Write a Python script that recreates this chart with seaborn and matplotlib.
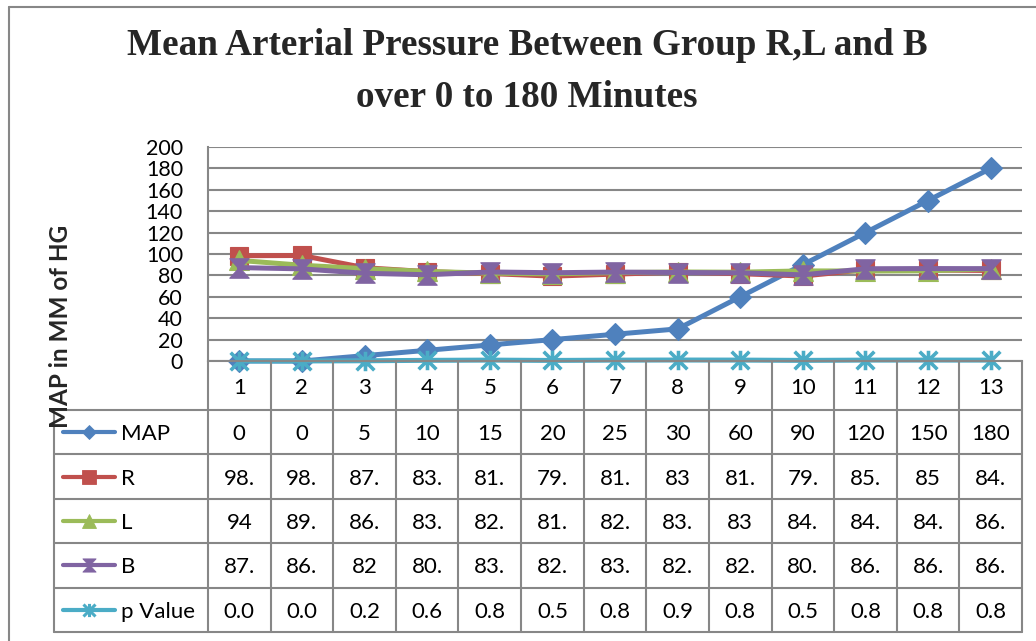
import matplotlib
matplotlib.use("Agg")
import matplotlib.pyplot as plt
from matplotlib.path import Path
from matplotlib.lines import Line2D
import seaborn as sns

# ---- data -------------------------------------------------------------
categories = list(range(1, 14))
map_values = [0, 0, 5, 10, 15, 20, 25, 30, 60, 90, 120, 150, 180]
group_r = [98.4, 98.6, 87.2, 83.5, 81.7, 79.3, 81.2, 83, 81.6, 79.4, 85.3, 85, 84.6]
group_l = [94, 89.5, 86.3, 83.7, 82.1, 81.4, 82.6, 83.2, 83, 84.2, 84.1, 84.3, 86.1]
group_b = [87.3, 86.1, 82, 80.6, 83.2, 82.5, 83.1, 82.7, 82.4, 80.5, 86.2, 86.4, 86.3]
p_values = [0.04, 0.03, 0.21, 0.62, 0.84, 0.53, 0.81, 0.92, 0.85, 0.57, 0.83, 0.86, 0.82]
series_names = ["MAP", "R", "L", "B", "p Value"]
y_ticks = list(range(0, 201, 20))

title_lines = ["Mean Arterial Pressure Between Group R,L and B",
               "over 0 to 180 Minutes"]
y_label = "MAP in MM of HG"

# ---- style ------------------------------------------------------------
sns.set_theme(style="white")
plt.rcParams["font.family"] = ["Lato", "DejaVu Sans"]

W, H = 1036, 641
GRID = "#878787"
colors = ["#4F81BD", "#C0504D", "#9BBB59", "#8064A2", "#4BACC6"]

hourglass = Path([(-1, 1), (1, 1), (0.08, 0), (1, -1), (-1, -1), (-0.08, 0), (-1, 1)],
                 [Path.MOVETO] + [Path.LINETO] * 5 + [Path.CLOSEPOLY])
star = Path([(-1, -1), (1, 1), (-1, 1), (1, -1), (0, -1.1), (0, 1.1)],
            [Path.MOVETO, Path.LINETO] * 3)
markers = ["D", "s", "^", hourglass, star]
plot_ms = [11, 13.5, 14, 14, 14]
key_ms = [7.5, 9.5, 10, 9.5, 9.5]

# layout (pixels)
PLOT_L, PLOT_R, PLOT_T, PLOT_B = 208, 1022, 147, 361
TABLE_L, TABLE_B = 54, 632
HEADER_H = 49
TABLE_FS = 16

fig = plt.figure(figsize=(W / 100, H / 100), dpi=100)
fig.patch.set_facecolor("white")

# ---- chart ------------------------------------------------------------
ax = fig.add_axes([PLOT_L / W, 1 - PLOT_B / H,
                   (PLOT_R - PLOT_L) / W, (PLOT_B - PLOT_T) / H])
series = [map_values, group_r, group_l, group_b, p_values]
for vals, col, mk, ms in zip(series, colors, markers, plot_ms):
    is_line_marker = mk is star
    sns.lineplot(x=categories, y=vals, ax=ax, color=col, linewidth=3.6,
                 marker=mk, markersize=ms, markeredgecolor=col,
                 markerfacecolor="none" if is_line_marker else col,
                 markeredgewidth=2.6 if is_line_marker else 0.8,
                 sort=False, errorbar=None, legend=False, clip_on=False)

ax.set_xlim(0.5, 13.5)
ax.set_ylim(0, 200)
ax.set_yticks(y_ticks)
ax.set_xticks([])
ax.set_xlabel("")
ax.set_ylabel("")
ax.yaxis.grid(True, color=GRID, linewidth=1.5)
ax.set_axisbelow(True)
for side in ("top", "right"):
    ax.spines[side].set_visible(False)
for side in ("left", "bottom"):
    ax.spines[side].set_color(GRID)
    ax.spines[side].set_linewidth(1.5)
ax.tick_params(axis="y", length=0, pad=18, labelsize=15.5, labelcolor="black")

# ---- data table -------------------------------------------------------
unit = (PLOT_R - PLOT_L) / 13
x_left = 0.5 - (PLOT_L - TABLE_L) / unit
tab_h = TABLE_B - PLOT_B
row_h = (tab_h - HEADER_H) / 5

tab = fig.add_axes([TABLE_L / W, 1 - TABLE_B / H,
                    (PLOT_R - TABLE_L) / W, tab_h / H])
tab.axis("off")

def px_to_x(px):
    return x_left + (px - TABLE_L) / unit

def cell_text(v, width=3):
    # values are clipped to the narrow cell width
    return f"{v:g}"[:width]

line_kw = dict(color=GRID, linewidth=1.5, clip_on=False)
for k in range(14):
    tab.plot([k + 0.5, k + 0.5], [0, tab_h], **line_kw)
tab.plot([x_left, x_left], [HEADER_H, tab_h], **line_kw)
for r in range(6):
    y = HEADER_H + r * row_h
    tab.plot([x_left, 13.5], [y, y], **line_kw)

for c in categories:
    tab.text(c, HEADER_H / 2, str(c), ha="center", va="center_baseline",
             fontsize=TABLE_FS, color="black")

for r, (name, vals, col, mk, ms) in enumerate(
        zip(series_names, series, colors, markers, key_ms)):
    yc = HEADER_H + row_h * (r + 0.5)
    is_line_marker = mk is star
    tab.plot([px_to_x(63), px_to_x(115)], [yc, yc], color=col, linewidth=3, clip_on=False)
    tab.plot([px_to_x(89)], [yc], marker=mk, markersize=ms, color=col,
             markerfacecolor="none" if is_line_marker else col,
             markeredgewidth=2.2 if is_line_marker else 0.6, clip_on=False)
    tab.text(px_to_x(121), yc, name, ha="left", va="center_baseline",
             fontsize=TABLE_FS, color="black")
    for c, v in zip(categories, vals):
        tab.text(c, yc, cell_text(v), ha="center", va="center_baseline",
                 fontsize=TABLE_FS, color="black")

tab.set_xlim(x_left, 13.5)
tab.set_ylim(tab_h, 0)

# ---- titles & frame ---------------------------------------------------
fig.text(527 / W, 1 - 55 / H, title_lines[0], ha="center", va="baseline",
         family="Liberation Serif", fontweight="bold", fontsize=26.7)
fig.text(527 / W, 1 - 107 / H, title_lines[1], ha="center", va="baseline",
         family="Liberation Serif", fontweight="bold", fontsize=26.7)
fig.text(60 / W, 1 - 326 / H, y_label, rotation=90, ha="center", va="center",
         fontweight="bold", fontsize=17.5)

fig.add_artist(Line2D([9 / W, 9 / W], [0, 1 - 7 / H], transform=fig.transFigure,
                      color=GRID, linewidth=1.5))
fig.add_artist(Line2D([9 / W, 1], [1 - 7 / H, 1 - 7 / H], transform=fig.transFigure,
                      color=GRID, linewidth=1.5))

fig.savefig("out.png", dpi=100, facecolor="white")
